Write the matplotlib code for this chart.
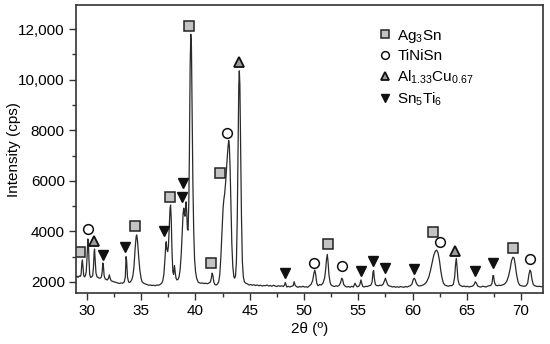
import matplotlib
matplotlib.use("Agg")
import matplotlib.pyplot as plt
from matplotlib.lines import Line2D
from matplotlib.ticker import MultipleLocator, FixedLocator, FixedFormatter

plt.rcParams['font.family'] = ['Liberation Sans', 'DejaVu Sans']
plt.rcParams['mathtext.default'] = 'regular'

# XRD pattern (2theta in degrees, intensity in cps)
two_theta = [
    29.00, 29.10, 29.20, 29.30, 29.40, 29.48, 29.55, 29.60, 29.65, 29.72,
    29.80, 29.88, 29.95, 30.03, 30.10, 30.15, 30.20, 30.27, 30.35, 30.45,
    30.55, 30.62, 30.68, 30.72, 30.77, 30.85, 30.95, 31.05, 31.15, 31.25,
    31.35, 31.42, 31.48, 31.53, 31.60, 31.70, 31.80, 31.90, 32.00, 32.08,
    32.15, 32.25, 32.40, 32.55, 32.70, 32.85, 33.00, 33.15, 33.30, 33.45,
    33.55, 33.62, 33.67, 33.75, 33.85, 33.95, 34.05, 34.15, 34.25, 34.35,
    34.45, 34.55, 34.60, 34.68, 34.78, 34.88, 35.00, 35.10, 35.25, 35.40,
    35.55, 35.70, 35.85, 36.00, 36.15, 36.30, 36.45, 36.60, 36.75, 36.90,
    37.00, 37.10, 37.20, 37.28, 37.32, 37.38, 37.45, 37.52, 37.60, 37.67,
    37.72, 37.78, 37.85, 37.93, 38.00, 38.08, 38.14, 38.22, 38.30, 38.40,
    38.50, 38.60, 38.70, 38.80, 38.87, 38.93, 38.98, 39.05, 39.10, 39.15,
    39.20, 39.27, 39.33, 39.40, 39.45, 39.52, 39.58, 39.64, 39.70, 39.77,
    39.85, 39.93, 40.02, 40.12, 40.25, 40.35, 40.50, 40.65, 40.80, 40.95,
    41.10, 41.25, 41.38, 41.47, 41.55, 41.62, 41.70, 41.80, 41.90, 42.00,
    42.15, 42.25, 42.35, 42.45, 42.55, 42.62, 42.70, 42.80, 42.90, 43.00,
    43.07, 43.13, 43.20, 43.28, 43.36, 43.45, 43.55, 43.62, 43.70, 43.78,
    43.86, 43.94, 44.00, 44.05, 44.10, 44.17, 44.25, 44.33, 44.42, 44.52,
    44.65, 44.80, 44.95, 45.10, 45.25, 45.40, 45.55, 45.70, 45.85, 46.00,
    46.15, 46.30, 46.45, 46.60, 46.75, 46.90, 47.05, 47.20, 47.35, 47.50,
    47.65, 47.80, 47.95, 48.10, 48.20, 48.28, 48.34, 48.42, 48.55, 48.70,
    48.85, 49.00, 49.10, 49.18, 49.30, 49.45, 49.60, 49.75, 49.90, 50.05,
    50.20, 50.35, 50.50, 50.65, 50.80, 50.92, 51.00, 51.08, 51.18, 51.30,
    51.45, 51.60, 51.75, 51.90, 52.00, 52.08, 52.15, 52.22, 52.30, 52.40,
    52.50, 52.65, 52.80, 52.95, 53.10, 53.25, 53.38, 53.48, 53.56, 53.66,
    53.80, 53.95, 54.10, 54.25, 54.40, 54.55, 54.70, 54.78, 54.90, 55.05,
    55.15, 55.25, 55.32, 55.42, 55.55, 55.70, 55.85, 56.00, 56.15, 56.28,
    56.36, 56.42, 56.48, 56.58, 56.70, 56.85, 57.00, 57.15, 57.30, 57.42,
    57.50, 57.58, 57.70, 57.85, 58.00, 58.15, 58.30, 58.45, 58.60, 58.75,
    58.90, 59.05, 59.20, 59.35, 59.50, 59.65, 59.80, 59.95, 60.07, 60.17,
    60.25, 60.35, 60.45, 60.60, 60.75, 60.90, 61.05, 61.20, 61.35, 61.50,
    61.65, 61.80, 61.95, 62.10, 62.22, 62.35, 62.48, 62.60, 62.72, 62.85,
    63.00, 63.15, 63.30, 63.45, 63.60, 63.75, 63.88, 63.96, 64.03, 64.10,
    64.18, 64.30, 64.45, 64.60, 64.75, 64.90, 65.05, 65.20, 65.35, 65.50,
    65.65, 65.78, 65.88, 66.00, 66.15, 66.30, 66.45, 66.60, 66.75, 66.90,
    67.05, 67.20, 67.32, 67.40, 67.46, 67.54, 67.65, 67.80, 67.95, 68.10,
    68.25, 68.40, 68.55, 68.70, 68.85, 69.00, 69.12, 69.25, 69.35, 69.45,
    69.58, 69.72, 69.85, 70.00, 70.15, 70.30, 70.45, 70.60, 70.72, 70.82,
    70.90, 71.00, 71.12, 71.25, 71.40, 71.55, 71.70, 71.85, 72.00,
]
intensity = [
    2200, 2230, 2180, 2240, 2220, 2300, 2750, 2870, 2600, 2250,
    2200, 2260, 2400, 3000, 3700, 3600, 2900, 2300, 2180, 2200,
    2260, 2600, 3200, 3300, 2900, 2350, 2200, 2180, 2150, 2150,
    2200, 2400, 2750, 2650, 2250, 2120, 2100, 2080, 2150, 2280,
    2150, 2050, 2020, 2000, 1980, 1960, 1940, 1960, 1950, 2000,
    2200, 3000, 2850, 2200, 2000, 1980, 2020, 2100, 2250, 2600,
    3300, 3800, 3860, 3600, 3000, 2500, 2150, 2000, 1950, 1920,
    1900, 1870, 1880, 1860, 1870, 1850, 1880, 1870, 1900, 1950,
    2050, 2300, 2900, 3500, 3590, 3300, 3200, 3400, 4200, 4900,
    5040, 4500, 3200, 2400, 2300, 2650, 2400, 2150, 2080, 2100,
    2200, 2500, 3100, 4000, 4700, 4920, 4700, 4600, 5000, 5170,
    4800, 4100, 4050, 5200, 7000, 10500, 11800, 11300, 9000, 6000,
    4000, 2900, 2400, 2150, 2000, 1970, 1950, 1960, 1940, 1950,
    1930, 1960, 2000, 2150, 2350, 2250, 2000, 1900, 1880, 1900,
    2000, 2300, 3000, 4000, 4900, 5250, 5500, 6000, 6700, 7300,
    7600, 7400, 6500, 5000, 3500, 2600, 2200, 2150, 2250, 2800,
    4500, 7500, 9800, 10350, 9800, 7200, 4500, 2800, 2200, 2000,
    1950, 1920, 1880, 1900, 1870, 1890, 1860, 1880, 1850, 1870,
    1840, 1860, 1850, 1880, 1840, 1860, 1830, 1870, 1840, 1820,
    1850, 1830, 1850, 1820, 1870, 1980, 1900, 1800, 1830, 1800,
    1830, 1850, 2010, 1880, 1820, 1790, 1820, 1800, 1830, 1800,
    1810, 1790, 1850, 1900, 2050, 2350, 2470, 2300, 1950, 1850,
    1900, 1880, 1950, 2150, 2500, 2900, 3090, 2800, 2300, 2000,
    1880, 1840, 1820, 1850, 1830, 1870, 1980, 2150, 2100, 1900,
    1830, 1800, 1820, 1790, 1830, 1800, 1950, 1880, 1810, 1830,
    1900, 2080, 1950, 1820, 1800, 1830, 1820, 1850, 1870, 2000,
    2400, 2450, 2150, 1900, 1860, 1850, 1870, 1860, 1920, 2050,
    2150, 2050, 1900, 1840, 1830, 1800, 1820, 1790, 1810, 1790,
    1820, 1800, 1790, 1820, 1800, 1830, 1850, 1920, 2100, 2150,
    2080, 1950, 1880, 1840, 1850, 1870, 1900, 1950, 2050, 2200,
    2450, 2750, 3050, 3220, 3260, 3150, 2850, 2450, 2150, 1950,
    1870, 1850, 1830, 1860, 1850, 1900, 2200, 2700, 2930, 2600,
    2100, 1900, 1850, 1820, 1840, 1810, 1830, 1800, 1820, 1830,
    1880, 2010, 1950, 1840, 1810, 1800, 1830, 1820, 1800, 1830,
    1850, 1860, 1950, 2250, 2250, 2000, 1880, 1850, 1870, 1860,
    1880, 1900, 1950, 2050, 2250, 2550, 2850, 2980, 2950, 2700,
    2300, 2000, 1880, 1850, 1840, 1830, 1850, 1950, 2300, 2470,
    2400, 2100, 1900, 1850, 1830, 1820, 1830, 1810, 1820,
]

# phase markers (position, height of marker)
ag3sn_x = [29.42, 34.48, 37.64, 39.46, 41.45, 42.31, 52.20, 61.92, 69.23]
ag3sn_y = [3200, 4220, 5370, 12130, 2740, 6330, 3500, 3990, 3330]
tinisn_x = [30.09, 42.93, 50.90, 53.52, 62.57, 70.86]
tinisn_y = [4090, 7910, 2740, 2630, 3570, 2910]
alcu_x = [30.71, 44.00, 63.95]
alcu_y = [3620, 10700, 3240]
sn5ti6_x = [31.47, 33.56, 37.09, 38.78, 38.84, 48.30, 55.27, 56.40, 57.50,
            60.17, 65.79, 67.39]
sn5ti6_y = [3070, 3370, 4010, 5370, 5900, 2370, 2450, 2830, 2570,
            2510, 2450, 2770]

y_ticks = [2000, 4000, 6000, 8000, 10000, 12000]
y_ticklabels = ['2000', '4000', '6000', '8000', '10,000', '12,000']

fig = plt.figure(figsize=(5.5, 3.44), dpi=100)
ax = fig.add_axes([0.138, 0.148, 0.849, 0.837])

ax.plot(two_theta, intensity, color='#2a2a2a', lw=0.9)

sq = dict(marker='s', ms=7, mfc='#c3c3c3', mec='#222222', mew=1.1, ls='none')
ci = dict(marker='o', ms=7, mfc='white', mec='#111111', mew=1.1, ls='none')
tu = dict(marker='^', ms=7, mfc='#9a9a9a', mec='#111111', mew=1.3, ls='none')
td = dict(marker='v', ms=7.5, mfc='#111111', mec='#111111', mew=1.0, ls='none')

ax.plot(ag3sn_x, ag3sn_y, **sq)
ax.plot(tinisn_x, tinisn_y, **ci)
ax.plot(alcu_x, alcu_y, **tu)
ax.plot(sn5ti6_x, sn5ti6_y, **td)

ax.set_xlim(29, 72)
ax.set_ylim(1560, 12950)
ax.xaxis.set_major_locator(MultipleLocator(5))
ax.xaxis.set_minor_locator(MultipleLocator(2.5))
ax.yaxis.set_major_locator(FixedLocator(y_ticks))
ax.yaxis.set_major_formatter(FixedFormatter(y_ticklabels))
ax.yaxis.set_minor_locator(MultipleLocator(1000))
ax.tick_params(which='major', direction='out', length=5, width=1, labelsize=11,
               color='#333333', pad=3)
ax.tick_params(which='minor', direction='out', length=3, width=1, color='#333333')
for s in ax.spines.values():
    s.set_color('#333333')
    s.set_linewidth(1.2)

ax.set_xlabel('2θ (º)', fontsize=11, labelpad=3)
ax.set_ylabel('Intensity (cps)', fontsize=11)
ax.yaxis.set_label_coords(-0.118, 0.5)

handles = [
    Line2D([], [], **sq),
    Line2D([], [], **ci),
    Line2D([], [], **tu),
    Line2D([], [], **td),
]
labels = ['Ag$_3$Sn', 'TiNiSn', 'Al$_{1.33}$Cu$_{0.67}$', 'Sn$_5$Ti$_6$']
ax.legend(handles, labels, loc='upper left', bbox_to_anchor=(0.62, 0.97),
          frameon=False, fontsize=11, handlelength=0.8, handletextpad=0.4,
          labelspacing=0.32, numpoints=1, markerscale=0.8)

plt.savefig('out.png', dpi=100)
